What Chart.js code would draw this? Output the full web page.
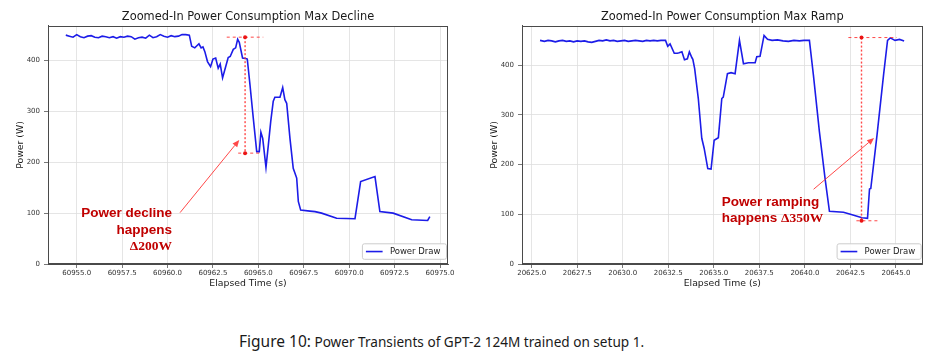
<!DOCTYPE html>
<html>
<head>
<meta charset="utf-8">
<script src="https://cdn.jsdelivr.net/npm/chart.js@4.4.1/dist/chart.umd.min.js"></script>
<style>
  html,body{margin:0;padding:0;background:#fff;}
  body{width:936px;height:355px;position:relative;overflow:hidden;}
  .wrap{position:absolute;top:0;width:468px;height:300px;}
  #cap{position:absolute;left:239px;top:331px;white-space:nowrap;font-family:"Noto Sans",sans-serif;color:#1a1a1a;line-height:20px;}
  #cap .fig{font-size:15.5px;}
  #cap .rest{font-size:13.6px;}
</style>
</head>
<body>
<div class="wrap" style="left:0"><canvas id="leftChart" width="468" height="300"></canvas></div>
<div class="wrap" style="left:468px"><canvas id="rightChart" width="468" height="300"></canvas></div>
<div id="cap"><span class="fig">Figure 10:</span><span class="rest"> Power Transients of GPT-2 124M trained on setup 1.</span></div>
<script>
// ---------------- data ----------------
const leftTime = [
  60954.4,60954.6,60954.8,60955.0,60955.2,60955.4,60955.6,60955.8,60956.0,60956.2,
  60956.4,60956.6,60956.8,60957.0,60957.2,60957.4,60957.6,60957.8,60958.0,60958.2,
  60958.4,60958.6,60958.8,60959.0,60959.2,60959.4,60959.6,60959.8,60960.0,60960.2,
  60960.4,60960.6,60960.8,60961.0,60961.2,60961.33,60961.5,60961.73,60961.85,60961.95,
  60962.05,60962.2,60962.37,60962.5,60962.65,60962.79,60962.9,60963.03,60963.2,60963.34,
  60963.45,60963.62,60963.75,60963.86,60963.95,60964.13,60964.3,60964.39,60964.54,60964.72,
  60964.91,60965.05,60965.14,60965.24,60965.42,60965.55,60965.68,60965.82,60965.91,60966.19,
  60966.34,60966.46,60966.56,60966.74,60966.92,60967.11,60967.2,60967.33,60967.84,60968.12,
  60968.48,60969.31,60970.32,60970.63,60971.42,60971.69,60972.42,60973.44,60974.32,60974.44
];
const leftPower = [
  450,448,446,451,447,445,448,449,446,445,
  448,447,445,447,444,447,446,448,447,442,
  445,446,444,450,445,447,451,448,446,449,
  447,448,451,451,450,428,425,433,425,427,
  418,398,388,403,405,385,393,366,388,406,
  408,422,425,442,436,405,404,403,352,287,
  221,221,259,247,190,234,280,320,328,328,
  347,323,316,247,188,169,123,106,104,103,
  100,90,89,162,172,103,100,87,85.5,93
];
const rightTime = [
  20625.46,20625.7,20625.9,20626.1,20626.3,20626.5,20626.7,20626.9,20627.1,20627.3,
  20627.5,20627.7,20627.9,20628.1,20628.3,20628.5,20628.7,20628.9,20629.1,20629.3,
  20629.5,20629.7,20629.9,20630.1,20630.3,20630.5,20630.7,20630.9,20631.1,20631.3,
  20631.5,20631.7,20631.9,20632.1,20632.35,20632.47,20632.6,20632.83,20633.0,20633.1,
  20633.25,20633.39,20633.55,20633.66,20633.8,20633.85,20633.95,20634.15,20634.34,20634.47,
  20634.67,20634.85,20635.02,20635.25,20635.44,20635.52,20635.75,20635.95,20636.17,20636.41,
  20636.63,20636.9,20637.27,20637.36,20637.54,20637.76,20637.95,20638.2,20638.5,20638.8,
  20639.1,20639.4,20639.7,20639.95,20640.11,20640.25,20640.47,20640.8,20641.11,20641.35,
  20642.12,20642.5,20643.14,20643.44,20643.55,20643.62,20643.96,20644.32,20644.54,20644.69,
  20644.95,20645.2,20645.45
];
const rightPower = [
  450,448,450,449,447,449,450,448,449,447,
  449,448,449,447,446,448,450,449,451,449,
  450,448,449,450,448,449,450,449,448,450,
  449,450,449,450,450,438,443,424,424,425,
  427,411,413,427,415,412,393,333,253,233,
  192,191,249,254,333,336,383,385,383,450,
  403,405,405,417,418,460,452,450,451,449,
  448,450,449,450,450,450,380,266,172,106,
  104,100,93,92,151,152,259,380,450,455,
  450,452,449
];
const leftXTicks = [60955,60957.5,60960,60962.5,60965,60967.5,60970,60972.5,60975];
const rightXTicks = [20625,20627.5,20630,20632.5,20635,20637.5,20640,20642.5,20645];
const yTicks = [0,100,200,300,400];
const chartTitles = ['Zoomed-In Power Consumption Max Decline','Zoomed-In Power Consumption Max Ramp'];
const seriesName = 'Power Draw';
const xLabel = 'Elapsed Time (s)';
const yLabel = 'Power (W)';

// annotation values (data coordinates)
const leftMark = {t:60964.27, top:446, bottom:218, topFrom:60963.26, topTo:60965.27, botFrom:60963.89, botTo:60965.18};
const rightMark = {t:20643.11, top:455.7, bottom:87, topFrom:20642.39, topTo:20645.05, botFrom:20642.83, botTo:20644.06};
const leftArrow = {fromT:60960.69, fromP:101, toT:60963.95, toP:244};
const rightArrow = {fromT:20640.48, fromP:150.4, toT:20643.80, toP:253.7};
const leftNoteAt = {t:60960.25, p:100};
const rightNoteAt = {t:20635.44, p:125.2};
const leftNoteLines = [[['Power decline','sans']],[['happens','sans']],[['\u0394200W','serif']]];
const rightNoteLines = [[['Power ramping','sans']],[['happens ','sans'],['\u0394350W','serif']]];

// ---------------- drawing ----------------
const BLUE = 'rgb(28,28,232)';
const RED_TXT = '#c00000';
const RED_LN = 'rgba(255,40,40,0.85)';
const SANS_B = 'bold 13.5px "Liberation Sans", Arial, sans-serif';
const SERIF_B = 'bold 13.5px "Liberation Serif", "Times New Roman", serif';

function annotPlugin(mark, arrow, noteAt, noteLines, align) {
  return {
    id: 'annot',
    afterDatasetsDraw(chart) {
      const {ctx, chartArea: a, scales} = chart;
      const px = v => scales.x.getPixelForValue(v);
      const py = v => scales.y.getPixelForValue(v);
      ctx.save();
      // frame
      ctx.strokeStyle = '#4a4a4a'; ctx.lineWidth = 1;
      ctx.strokeRect(Math.round(a.left)+0.5, Math.round(a.top)+0.5, Math.round(a.width)-1, Math.round(a.height)-1);
      // red guide lines
      ctx.strokeStyle = RED_LN;
      ctx.lineWidth = 1; ctx.setLineDash([3,3]);
      ctx.beginPath();
      ctx.moveTo(px(mark.topFrom), py(mark.top)); ctx.lineTo(px(mark.topTo), py(mark.top));
      ctx.moveTo(px(mark.botFrom), py(mark.bottom)); ctx.lineTo(px(mark.botTo), py(mark.bottom));
      ctx.stroke();
      ctx.lineWidth = 1.4; ctx.setLineDash([2,2]);
      ctx.beginPath();
      ctx.moveTo(px(mark.t), py(mark.top)); ctx.lineTo(px(mark.t), py(mark.bottom));
      ctx.stroke();
      ctx.setLineDash([]);
      ctx.fillStyle = 'rgb(235,20,20)';
      [mark.top, mark.bottom].forEach(v => {
        ctx.beginPath(); ctx.arc(px(mark.t), py(v), 2, 0, Math.PI*2); ctx.fill();
      });
      // arrow
      const x0 = px(arrow.fromT), y0 = py(arrow.fromP), x1 = px(arrow.toT), y1 = py(arrow.toP);
      const ang = Math.atan2(y1-y0, x1-x0);
      const hl = 7, hw = 3;
      ctx.strokeStyle = RED_LN; ctx.lineWidth = 1;
      ctx.beginPath(); ctx.moveTo(x0,y0);
      ctx.lineTo(x1 - hl*Math.cos(ang), y1 - hl*Math.sin(ang)); ctx.stroke();
      ctx.fillStyle = RED_LN;
      ctx.beginPath();
      ctx.moveTo(x1,y1);
      ctx.lineTo(x1 - hl*Math.cos(ang) + hw*Math.sin(ang), y1 - hl*Math.sin(ang) - hw*Math.cos(ang));
      ctx.lineTo(x1 - hl*Math.cos(ang) - hw*Math.sin(ang), y1 - hl*Math.sin(ang) + hw*Math.cos(ang));
      ctx.closePath(); ctx.fill();
      // note text
      ctx.fillStyle = RED_TXT; ctx.textBaseline = 'middle';
      const nx = px(noteAt.t), ny = py(noteAt.p);
      noteLines.forEach((parts, i) => {
        const yy = ny + i*16.7;
        const widths = parts.map(([s,f]) => { ctx.font = f==='sans'?SANS_B:SERIF_B; return ctx.measureText(s).width; });
        const total = widths.reduce((s,w)=>s+w,0);
        let xx = align === 'right' ? nx - total : nx;
        ctx.textAlign = 'left';
        parts.forEach(([s,f], j) => {
          ctx.font = f==='sans'?SANS_B:SERIF_B;
          ctx.fillText(s, xx, yy);
          xx += widths[j];
        });
      });
      // legend
      ctx.font = '8.5px "DejaVu Sans", sans-serif';
      const tw = ctx.measureText(seriesName).width;
      const bw = 3.5 + 16.7 + 7.3 + tw + 6, bh = 15.5;
      const bx = a.right - 1.5 - bw, by = a.bottom - 4.7 - bh;
      ctx.fillStyle = 'rgba(255,255,255,0.9)';
      ctx.strokeStyle = '#cccccc'; ctx.lineWidth = 1;
      ctx.beginPath();
      if (ctx.roundRect) ctx.roundRect(bx, by, bw, bh, 2); else ctx.rect(bx, by, bw, bh);
      ctx.fill(); ctx.stroke();
      ctx.strokeStyle = BLUE; ctx.lineWidth = 1.6;
      ctx.beginPath(); ctx.moveTo(bx+3.5, by+bh/2); ctx.lineTo(bx+3.5+16.7, by+bh/2); ctx.stroke();
      ctx.fillStyle = '#222'; ctx.textAlign = 'left'; ctx.textBaseline = 'middle';
      ctx.fillText(seriesName, bx+3.5+16.7+7.3, by+bh/2+0.5);
      ctx.restore();
    }
  };
}

function makeChart(id, times, powers, xTicks, xMin, xMax, yMax, title, yAxisWidth, padRight, yTitlePad, plugin) {
  const pts = times.map((t,i)=>({x:t, y:powers[i]}));
  return new Chart(document.getElementById(id), {
    type: 'line',
    data: { datasets: [{ label: seriesName, data: pts, borderColor: BLUE, borderWidth: 1.6, pointRadius: 0, tension: 0, fill: false }] },
    options: {
      responsive: false, animation: false, devicePixelRatio: 1,
      layout: { padding: { left: 0, right: padRight, top: 0, bottom: 0 } },
      plugins: {
        legend: { display: false },
        tooltip: { enabled: false },
        title: { display: true, text: title, fullSize: false, color: '#1a1a1a',
                 font: { family: '"DejaVu Sans", sans-serif', size: 11.4, weight: 'normal' },
                 padding: { top: 10, bottom: 2.3 } }
      },
      scales: {
        x: {
          type: 'linear', min: xMin, max: xMax,
          afterBuildTicks: s => { s.ticks = xTicks.map(v => ({value: v})); },
          afterFit: s => { s.height = 36; },
          ticks: { autoSkip: false, maxRotation: 0, padding: 1, color: '#333',
                   font: { family: '"DejaVu Sans", sans-serif', size: 7 },
                   callback: v => Number(v).toFixed(1) },
          grid: { color: '#dedede', lineWidth: 0.8, drawTicks: true, tickLength: 4, tickColor: '#555' },
          border: { display: true, color: '#4a4a4a' },
          title: { display: true, text: xLabel, color: '#1a1a1a', padding: { top: 0, bottom: 11 },
                   font: { family: '"DejaVu Sans", sans-serif', size: 9.3 } }
        },
        y: {
          type: 'linear', min: 0, max: yMax,
          afterBuildTicks: s => { s.ticks = yTicks.map(v => ({value: v})); },
          afterFit: s => { s.width = yAxisWidth; },
          ticks: { padding: 4, color: '#333', font: { family: '"DejaVu Sans", sans-serif', size: 7 },
                   callback: v => String(v) },
          grid: { color: '#dedede', lineWidth: 0.8, drawTicks: true, tickLength: 4, tickColor: '#555' },
          border: { display: true, color: '#4a4a4a' },
          title: { display: true, text: yLabel, color: '#1a1a1a', padding: { top: yTitlePad, bottom: 0 },
                   font: { family: '"DejaVu Sans", sans-serif', size: 9.3 } }
        }
      }
    },
    plugins: [plugin]
  });
}

makeChart('leftChart', leftTime, leftPower, leftXTicks, 60953.42, 60975.44, 468, chartTitles[0], 48, 20, 15,
  annotPlugin(leftMark, leftArrow, leftNoteAt, leftNoteLines, 'right'));
makeChart('rightChart', rightTime, rightPower, rightXTicks, 20624.47, 20646.47, 479, chartTitles[1], 54, 13.3, 21.3,
  annotPlugin(rightMark, rightArrow, rightNoteAt, rightNoteLines, 'left'));
</script>
</body>
</html>
